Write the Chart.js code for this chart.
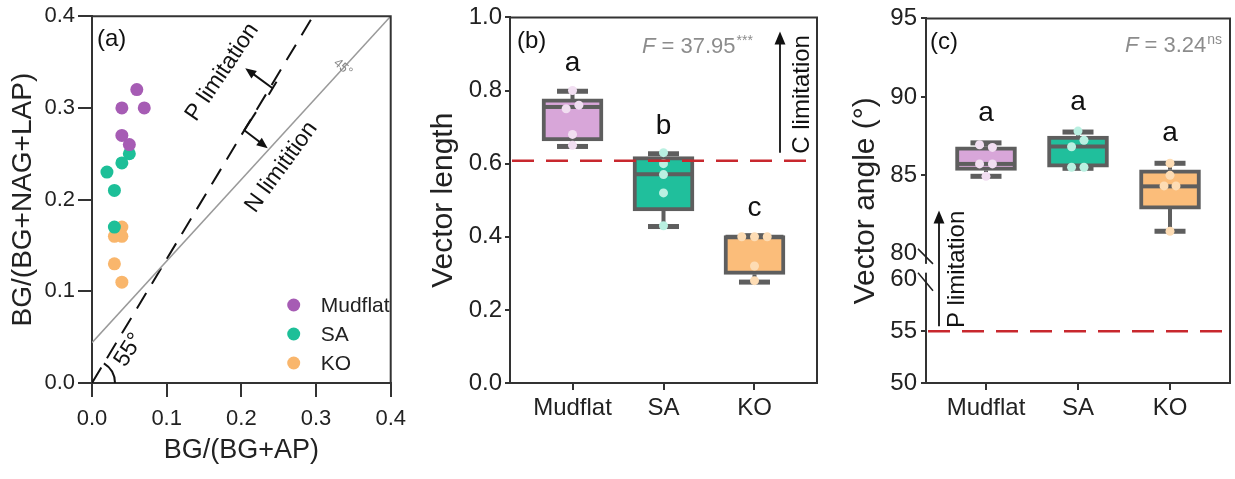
<!DOCTYPE html>
<html>
<head>
<meta charset="utf-8">
<title>Enzyme vector analysis</title>
<script src="https://cdn.jsdelivr.net/npm/chart.js@4.4.1/dist/chart.umd.min.js"></script>
<style>
  html, body { margin: 0; padding: 0; background: #fff; }
  #wrap { position: relative; width: 1235px; height: 479px; overflow: hidden; }
  canvas { position: absolute; top: 0; }
</style>
</head>
<body>
<div id="wrap">
  <canvas id="chartA" width="415" height="479" style="left:0"></canvas>
  <canvas id="chartB" width="415" height="479" style="left:415px"></canvas>
  <canvas id="chartC" width="405" height="479" style="left:830px"></canvas>
</div>
<script>
var FONT = "'Liberation Sans', Arial, sans-serif";
var INK = '#222';
var AXIS = '#333';
var BOXLINE = '#5e5e5e';

var groups = ['Mudflat', 'SA', 'KO'];
var pointColors = ['#a65cb4', '#1dbf98', '#f9b66c'];
var boxColors = ['#d8a6d9', '#20bf9c', '#fbbd7a'];
var dotColors = ['#f1def1', '#b9f0e1', '#fddcb4'];

// (a) BG/(BG+AP) vs BG/(BG+NAG+LAP)
var mudflatX = [0.06, 0.04, 0.07, 0.04, 0.05];
var mudflatY = [0.32, 0.30, 0.30, 0.27, 0.26];
var saX = [0.05, 0.04, 0.02, 0.03, 0.03];
var saY = [0.25, 0.24, 0.23, 0.21, 0.17];
var koX = [0.04, 0.03, 0.04, 0.03, 0.04];
var koY = [0.17, 0.16, 0.16, 0.13, 0.11];
var ticksA = [0.0, 0.1, 0.2, 0.3, 0.4];
var line45X = [0, 0.4];
var line45Y = [0.044, 0.4];
var line55X = [0, 0.296];
var line55Y = [0, 0.4];

// (b) vector length
var lenLow = [0.647, 0.428, 0.276];
var lenQ1 = [0.662, 0.471, 0.297];
var lenMed = [0.755, 0.571, 0.400];
var lenQ3 = [0.777, 0.619, 0.403];
var lenHigh = [0.798, 0.627, 0.403];
var lenPoints = [[0.80, 0.76, 0.75, 0.68, 0.65], [0.63, 0.60, 0.57, 0.52, 0.43], [0.40, 0.40, 0.40, 0.32, 0.28]];
var lenJitter = [[0, 0.07, -0.07, 0, 0], [0, 0, 0, 0, 0], [-0.14, 0, 0.14, 0, 0]];
var lenLetters = ['a', 'b', 'c'];
var lenTicks = [0, 0.2, 0.4, 0.6, 0.8, 1.0];
var lenThreshold = 0.608;
var lenF = '37.95', lenSig = '***';

// (c) vector angle
var angLow = [84.94, 85.45, 81.44];
var angQ1 = [85.31, 85.52, 82.85];
var angMed = [85.73, 86.84, 84.30];
var angQ3 = [86.82, 87.51, 85.36];
var angHigh = [87.07, 87.76, 85.77];
var angPoints = [[86.95, 86.78, 85.73, 85.73, 84.94], [87.82, 87.24, 86.82, 85.52, 85.52], [85.77, 85.00, 84.33, 84.33, 81.44]];
var angJitter = [[-0.07, 0.07, -0.07, 0.07, 0], [0, 0.065, -0.07, -0.07, 0.065], [0, 0, -0.065, 0.065, 0]];
var angLetters = ['a', 'a', 'a'];
var angTicks = [50, 55, 60, 80, 85, 90, 95];
var angThreshold = 55;
var angF = '3.24', angSig = 'ns';

// broken axis: 50-60 on the lower part, 80-95 on the upper part
function brk(v) {
  if (v <= 60) return (v - 50) / 10 * 0.2834;
  if (v >= 80) return 0.3542 + (v - 80) / 15 * 0.6458;
  return 0.2834 + (v - 60) / 20 * 0.0708;
}

Chart.defaults.font.family = FONT;
Chart.defaults.color = INK;

function pts(xs, ys) {
  return xs.map(function (x, i) { return { x: x, y: ys[i] }; });
}

function arrow(ctx, x1, y1, x2, y2, head) {
  var ang = Math.atan2(y2 - y1, x2 - x1);
  var c = Math.cos(ang), s = Math.sin(ang);
  ctx.beginPath();
  ctx.moveTo(x1, y1);
  ctx.lineTo(x2 - c * head * 0.8, y2 - s * head * 0.8);
  ctx.stroke();
  ctx.beginPath();
  ctx.moveTo(x2, y2);
  ctx.lineTo(x2 - head * c + head * 0.42 * s, y2 - head * s - head * 0.42 * c);
  ctx.lineTo(x2 - head * c - head * 0.42 * s, y2 - head * s + head * 0.42 * c);
  ctx.closePath();
  ctx.fill();
}

function rotText(ctx, txt, x, y, deg, font, color) {
  ctx.save();
  ctx.translate(x, y);
  ctx.rotate(deg * Math.PI / 180);
  ctx.font = font;
  ctx.fillStyle = color;
  ctx.textAlign = 'center';
  ctx.textBaseline = 'middle';
  ctx.fillText(txt, 0, 0);
  ctx.restore();
}

function frame(ctx, a) {
  ctx.save();
  ctx.strokeStyle = AXIS;
  ctx.lineWidth = 2;
  ctx.beginPath();
  ctx.moveTo(a.left - 1, a.top);
  ctx.lineTo(a.right, a.top);
  ctx.lineTo(a.right, a.bottom);
  ctx.stroke();
  ctx.restore();
}

function statText(ctx, x, y, value, sig, size) {
  ctx.save();
  ctx.fillStyle = '#8c8c8c';
  ctx.textAlign = 'left';
  ctx.textBaseline = 'alphabetic';
  ctx.font = 'italic ' + size + 'px ' + FONT;
  ctx.fillText('F', x, y);
  x += ctx.measureText('F').width;
  ctx.font = size + 'px ' + FONT;
  var s = ' = ' + value;
  ctx.fillText(s, x, y);
  x += ctx.measureText(s).width;
  ctx.font = Math.round(size * 0.62) + 'px ' + FONT;
  ctx.fillText(sig, x + 1, y - size * 0.4);
  ctx.restore();
}

function hLine(ctx, a, y, color, dash, width) {
  ctx.save();
  ctx.strokeStyle = color;
  ctx.lineWidth = width;
  ctx.setLineDash(dash);
  ctx.beginPath();
  ctx.moveTo(a.left + 2, y);
  ctx.lineTo(a.right, y);
  ctx.stroke();
  ctx.restore();
}

// whiskers, caps and medians of the box datasets
var boxPlugin = {
  id: 'boxWhiskers',
  afterDatasetDraw: function (chart, args) {
    var ds = chart.data.datasets[args.index];
    if (!ds.stats) return;
    var st = ds.stats, ctx = chart.ctx, sx = chart.scales.x, sy = chart.scales.y;
    ctx.save();
    ctx.fillStyle = BOXLINE;
    ctx.strokeStyle = BOXLINE;
    ctx.lineWidth = 4;
    for (var i = 0; i < st.low.length; i++) {
      var x = sx.getPixelForValue(i + 1);
      var yLo = sy.getPixelForValue(st.low[i]);
      var yQ1 = sy.getPixelForValue(st.q1[i]);
      var yMed = sy.getPixelForValue(st.med[i]);
      var yQ3 = sy.getPixelForValue(st.q3[i]);
      var yHi = sy.getPixelForValue(st.high[i]);
      ctx.beginPath();
      ctx.moveTo(x, yHi); ctx.lineTo(x, yQ3);
      ctx.moveTo(x, yQ1); ctx.lineTo(x, yLo);
      ctx.stroke();
      ctx.fillRect(x - 15.5, yHi - 2.5, 31, 5);
      ctx.fillRect(x - 15.5, yLo - 2.5, 31, 5);
      ctx.fillRect(x - 29, yMed - 2, 58, 4);
    }
    ctx.restore();
  }
};

// ---------- panel (a) ----------
var annotA = {
  id: 'annotA',
  afterDraw: function (chart) {
    var ctx = chart.ctx, a = chart.chartArea, sx = chart.scales.x, sy = chart.scales.y;
    function px(v) { return sx.getPixelForValue(v); }
    function py(v) { return sy.getPixelForValue(v); }
    frame(ctx, a);
    ctx.save();
    ctx.strokeStyle = '#111';
    ctx.fillStyle = '#111';
    ctx.lineWidth = 2;
    // 55 degree mark
    var ox = px(0), oy = py(0);
    var ang = Math.atan2(oy - py(line55Y[1]), px(line55X[1]) - ox);
    ctx.beginPath();
    ctx.arc(ox, oy, 23, -ang, 0);
    ctx.stroke();
    rotText(ctx, '55°', ox + 37, oy - 33, -58, '23px ' + FONT, '#111');
    rotText(ctx, '45°', px(0.336), py(0.344), 40, '13px ' + FONT, '#888');
    // P limitation arrow
    ctx.beginPath();
    ctx.moveTo(px(0.2366), py(0.3144));
    ctx.lineTo(px(0.2471), py(0.3286));
    ctx.stroke();
    arrow(ctx, px(0.2418), py(0.3215), px(0.2052), py(0.3433), 11);
    // N limitation arrow
    ctx.beginPath();
    ctx.moveTo(px(0.2196), py(0.2954));
    ctx.lineTo(px(0.2039), py(0.2757));
    ctx.stroke();
    arrow(ctx, px(0.2039), py(0.2757), px(0.2353), py(0.2561), 11);
    rotText(ctx, 'P limitation', px(0.1745), py(0.339), -56, '23px ' + FONT, '#111');
    rotText(ctx, 'N limitition', px(0.2536), py(0.2354), -54, '23px ' + FONT, '#111');
    // panel label
    ctx.font = '24px ' + FONT;
    ctx.textAlign = 'left';
    ctx.textBaseline = 'alphabetic';
    ctx.fillText('(a)', a.left + 5, a.top + 30);
    // legend
    ctx.font = '21px ' + FONT;
    ctx.textBaseline = 'middle';
    for (var i = 0; i < 3; i++) {
      var d = chart.data.datasets[i];
      var ly = a.bottom - 78 + i * 29;
      ctx.fillStyle = d.backgroundColor;
      ctx.beginPath();
      ctx.arc(a.right - 97, ly, 6.5, 0, Math.PI * 2);
      ctx.fill();
      ctx.fillStyle = INK;
      ctx.fillText(d.label, a.right - 70, ly + 1);
    }
    ctx.restore();
  }
};

new Chart(document.getElementById('chartA'), {
  type: 'scatter',
  data: {
    datasets: [
      { label: groups[0], data: pts(mudflatX, mudflatY), backgroundColor: pointColors[0], pointRadius: 6.5, borderWidth: 0 },
      { label: groups[1], data: pts(saX, saY), backgroundColor: pointColors[1], pointRadius: 6.5, borderWidth: 0 },
      { label: groups[2], data: pts(koX, koY), backgroundColor: pointColors[2], pointRadius: 6.5, borderWidth: 0 },
      { label: '45°', data: pts(line45X, line45Y), showLine: true, borderColor: '#9a9a9a', borderWidth: 1.5, pointRadius: 0 },
      { label: '55°', data: pts(line55X, line55Y), showLine: true, borderColor: '#111', borderWidth: 2, borderDash: [18, 11], pointRadius: 0 }
    ]
  },
  options: {
    responsive: false,
    animation: false,
    events: [],
    layout: { padding: { left: 0, top: 16, right: 17, bottom: 0 } },
    plugins: { legend: { display: false }, tooltip: { enabled: false } },
    scales: {
      x: {
        type: 'linear', min: 0, max: 0.4,
        afterBuildTicks: function (s) { s.ticks = ticksA.map(function (v) { return { value: v }; }); },
        afterFit: function (s) { s.height = 96; },
        ticks: { autoSkip: false, maxRotation: 0, padding: 9, font: { size: 22 }, color: INK, callback: function (v) { return v.toFixed(1); } },
        grid: { drawOnChartArea: false, tickLength: 14, tickColor: AXIS, lineWidth: 2 },
        border: { color: AXIS, width: 2 },
        title: { display: true, text: 'BG/(BG+AP)', font: { size: 27 }, color: INK, padding: { top: 0, bottom: 12 } }
      },
      y: {
        type: 'linear', min: 0, max: 0.4,
        afterBuildTicks: function (s) { s.ticks = ticksA.map(function (v) { return { value: v }; }); },
        afterFit: function (s) { s.width = 92; },
        ticks: { autoSkip: false, padding: 3, font: { size: 22 }, color: INK, callback: function (v) { return v.toFixed(1); } },
        grid: { drawOnChartArea: false, tickLength: 14, tickColor: AXIS, lineWidth: 2 },
        border: { color: AXIS, width: 2 },
        title: { display: true, text: 'BG/(BG+NAG+LAP)', font: { size: 28 }, color: INK, padding: { top: 6, bottom: 0 } }
      }
    }
  },
  plugins: [annotA]
});

// ---------- box panels ----------
function boxData(q1, q3, tf) {
  return groups.map(function (g, i) { return { x: i + 1, y: [tf(q1[i]), tf(q3[i])] }; });
}
function dotData(points, jitter, tf) {
  var out = [];
  points.forEach(function (list, i) {
    list.forEach(function (v, j) { out.push({ x: i + 1 + jitter[i][j], y: tf(v) }); });
  });
  return out;
}
function dotFill(points) {
  var out = [];
  points.forEach(function (list, i) { list.forEach(function () { out.push(dotColors[i]); }); });
  return out;
}

function boxOptions(cfg) {
  return {
    responsive: false,
    animation: false,
    events: [],
    layout: { padding: { left: 0, top: 16, right: cfg.padRight, bottom: 0 } },
    plugins: { legend: { display: false }, tooltip: { enabled: false } },
    scales: {
      x: {
        type: 'linear', min: cfg.xMin, max: cfg.xMax, offset: false,
        afterBuildTicks: function (s) { s.ticks = groups.map(function (g, i) { return { value: i + 1 }; }); },
        afterFit: function (s) { s.height = 96; },
        ticks: { autoSkip: false, maxRotation: 0, padding: 4, font: { size: 24 }, color: INK,
                 callback: function (v) { return groups[Math.round(v) - 1]; } },
        grid: { drawOnChartArea: false, offset: false, tickLength: 7, tickColor: AXIS, lineWidth: 2 },
        border: { color: AXIS, width: 2 }
      },
      y: {
        type: 'linear', min: cfg.yMin, max: cfg.yMax, beginAtZero: false,
        afterBuildTicks: function (s) { s.ticks = cfg.yTicks.map(function (v) { return { value: v }; }); },
        afterFit: function (s) { s.width = cfg.left; },
        ticks: { autoSkip: false, padding: cfg.tickPad, font: { size: 24 }, color: INK, callback: cfg.label },
        grid: { drawOnChartArea: false, tickLength: 5, tickColor: cfg.tickColor || AXIS, lineWidth: 2 },
        border: { color: AXIS, width: 2 },
        title: { display: true, text: cfg.title, font: { size: 30 }, color: INK, padding: { top: cfg.titlePad, bottom: 0 } }
      }
    }
  };
}

function letters(ctx, chart, list, high, tf, gap) {
  var sx = chart.scales.x, sy = chart.scales.y;
  ctx.save();
  ctx.font = '28px ' + FONT;
  ctx.fillStyle = '#111';
  ctx.textAlign = 'center';
  ctx.textBaseline = 'alphabetic';
  list.forEach(function (t, i) {
    ctx.fillText(t, sx.getPixelForValue(i + 1), sy.getPixelForValue(tf(high[i])) - gap);
  });
  ctx.restore();
}

function same(v) { return v; }

// ---------- panel (b) ----------
var annotB = {
  id: 'annotB',
  afterDraw: function (chart) {
    var ctx = chart.ctx, a = chart.chartArea, sy = chart.scales.y;
    frame(ctx, a);
    var ty = sy.getPixelForValue(lenThreshold);
    hLine(ctx, a, ty, '#c8282e', [22, 12], 2.5);
    letters(ctx, chart, lenLetters, lenHigh, same, 20);
    ctx.save();
    ctx.font = '24px ' + FONT;
    ctx.fillStyle = '#111';
    ctx.textAlign = 'left';
    ctx.fillText('(b)', a.left + 7, a.top + 31);
    ctx.restore();
    statText(ctx, a.left + 132, a.top + 36, lenF, lenSig, 22);
    ctx.save();
    ctx.strokeStyle = '#111';
    ctx.fillStyle = '#111';
    ctx.lineWidth = 1.8;
    arrow(ctx, a.left + 270, ty - 8, a.left + 270, a.top + 14, 13);
    ctx.restore();
    rotText(ctx, 'C limitation', a.left + 292, a.top + 77, -90, '24px ' + FONT, '#111');
  }
};

new Chart(document.getElementById('chartB'), {
  type: 'bar',
  data: {
    datasets: [
      { type: 'bar', label: 'Vector length', data: boxData(lenQ1, lenQ3, same), backgroundColor: boxColors,
        borderColor: BOXLINE, borderWidth: 4, borderSkipped: false, barThickness: 61, order: 2,
        stats: { low: lenLow, q1: lenQ1, med: lenMed, q3: lenQ3, high: lenHigh } },
      { type: 'scatter', label: 'samples', data: dotData(lenPoints, lenJitter, same), backgroundColor: dotFill(lenPoints),
        pointRadius: 4.5, borderWidth: 0, order: 1 }
    ]
  },
  options: boxOptions({
    padRight: 13, left: 95, xMin: 0.313, xMax: 3.687, yMin: 0, yMax: 1, yTicks: lenTicks, tickPad: 3,
    titlePad: 11, title: 'Vector length', label: function (v) { return v.toFixed(1); }
  }),
  plugins: [boxPlugin, annotB]
});

// ---------- panel (c) ----------
var annotC = {
  id: 'annotC',
  afterDraw: function (chart) {
    var ctx = chart.ctx, a = chart.chartArea, sy = chart.scales.y;
    frame(ctx, a);
    var ty = sy.getPixelForValue(brk(angThreshold));
    hLine(ctx, a, ty, '#c8282e', [22, 12], 2.5);
    letters(ctx, chart, angLetters, angHigh, brk, 22);
    // axis break
    var y80 = sy.getPixelForValue(brk(80)), y60 = sy.getPixelForValue(brk(60));
    ctx.save();
    ctx.fillStyle = '#fff';
    ctx.fillRect(a.left - 3, y80 + 10, 6, (y60 - 7) - (y80 + 10));
    ctx.strokeStyle = '#222';
    ctx.lineWidth = 1.5;
    ctx.beginPath();
    ctx.moveTo(a.left - 8, y80 - 5); ctx.lineTo(a.left + 7, y80 + 10);
    ctx.moveTo(a.left - 8, y60 - 7); ctx.lineTo(a.left + 7, y60 + 11);
    ctx.stroke();
    ctx.font = '24px ' + FONT;
    ctx.fillStyle = '#111';
    ctx.textAlign = 'left';
    ctx.fillText('(c)', a.left + 4, a.top + 31);
    ctx.restore();
    statText(ctx, a.left + 199, a.top + 34, angF, angSig, 22);
    ctx.save();
    ctx.strokeStyle = '#111';
    ctx.fillStyle = '#111';
    ctx.lineWidth = 1.8;
    arrow(ctx, a.left + 13, ty - 5, a.left + 13, a.top + 192, 13);
    ctx.restore();
    rotText(ctx, 'P limitation', a.left + 31, a.top + 251, -90, '24px ' + FONT, '#111');
  }
};

new Chart(document.getElementById('chartC'), {
  type: 'bar',
  data: {
    datasets: [
      { type: 'bar', label: 'Vector angle', data: boxData(angQ1, angQ3, brk), backgroundColor: boxColors,
        borderColor: BOXLINE, borderWidth: 4, borderSkipped: false, barThickness: 61, order: 2,
        stats: { low: angLow.map(brk), q1: angQ1.map(brk), med: angMed.map(brk), q3: angQ3.map(brk), high: angHigh.map(brk) } },
      { type: 'scatter', label: 'samples', data: dotData(angPoints, angJitter, brk), backgroundColor: dotFill(angPoints),
        pointRadius: 4.5, borderWidth: 0, order: 1 }
    ]
  },
  options: boxOptions({
    padRight: 5, left: 96, xMin: 0.348, xMax: 3.652, yMin: 0, yMax: 1, yTicks: angTicks.map(brk), tickPad: 4,
    titlePad: 18, title: 'Vector angle (°)',
    label: function (v, i) { return String(angTicks[i]); },
    tickColor: function (c) { var t = angTicks[c.index]; return (t === 60 || t === 80) ? 'rgba(0,0,0,0)' : AXIS; }
  }),
  plugins: [boxPlugin, annotC]
});
</script>
</body>
</html>
